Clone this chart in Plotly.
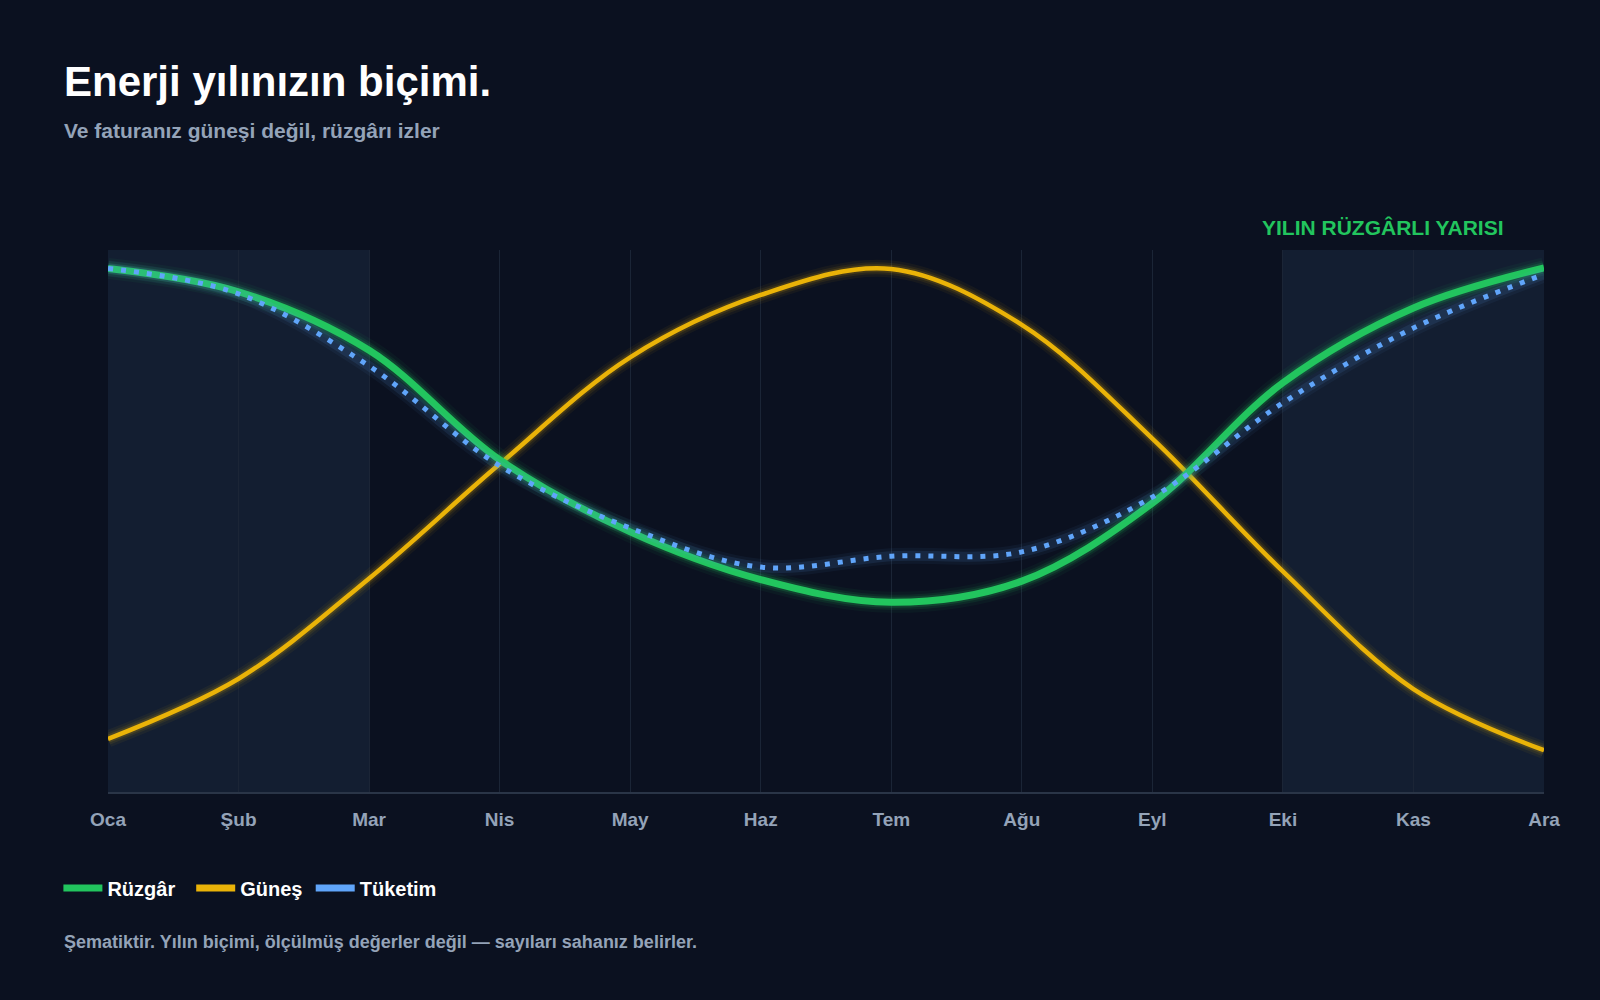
import plotly.graph_objects as go

# month labels and schematic series (0-100 scale)
months = ["Oca", "Şub", "Mar", "Nis", "May", "Haz", "Tem", "Ağu", "Eyl", "Eki", "Kas", "Ara"]
wind = [96.6, 92.3, 81.5, 61.3, 48.0, 39.2, 35.0, 38.9, 53.3, 75.5, 89.3, 96.7]
solar = [9.8, 20.9, 39.4, 60.5, 80.2, 91.7, 96.5, 86.2, 65.2, 40.7, 19.0, 7.7]
usage = [96.6, 91.9, 78.6, 60.2, 48.7, 41.5, 43.5, 44.3, 54.4, 71.8, 85.6, 95.5]
windy_spans = [("Oca", "Mar"), ("Eki", "Ara")]

BG = "#0b1120"
GREEN = "#22c55e"
YELLOW = "#eab308"
BLUE = "#60a5fa"
MUTED = "#94a3b8"
FONT = "Liberation Sans, Arial, sans-serif"
LEFT = -0.032  # text column left edge, in paper units

x = list(range(len(months)))
fig = go.Figure()


def glow(values, color, widths, opacities):
    # fake the soft glow with a few wide translucent strokes
    for w, op in zip(widths, opacities):
        fig.add_trace(go.Scatter(x=x, y=values, mode="lines", line=dict(color=color, width=w, shape="spline"),
                                 opacity=op, showlegend=False, hoverinfo="skip"))


glow(solar, YELLOW, [17, 12, 8], [0.05, 0.08, 0.14])
fig.add_trace(go.Scatter(x=x, y=solar, mode="lines", line=dict(color=YELLOW, width=4.5, shape="spline"),
                         showlegend=False, hoverinfo="skip"))
glow(wind, GREEN, [21, 15, 11], [0.05, 0.09, 0.16])
fig.add_trace(go.Scatter(x=x, y=wind, mode="lines", line=dict(color=GREEN, width=7, shape="spline"),
                         showlegend=False, hoverinfo="skip"))
glow(usage, BLUE, [16, 10], [0.05, 0.1])
fig.add_trace(go.Scatter(x=x, y=usage, mode="lines",
                         line=dict(color=BLUE, width=5, shape="spline", dash="5px,8px"),
                         showlegend=False, hoverinfo="skip"))

# legend entries (solid swatches), one small legend each so the gaps can match
legend_items = [("Rüzgâr", GREEN, "legend", 0.0365), ("Güneş", YELLOW, "legend2", 0.1195),
                ("Tüketim", BLUE, "legend3", 0.1942)]
legend_font = dict(family=FONT, size=20, color="#ffffff", weight="bold")
for name, color, lg, lx in legend_items:
    fig.add_trace(go.Scatter(x=[None], y=[None], mode="lines", name=name, legend=lg,
                             line=dict(color=color, width=7)))
    fig.update_layout({lg: dict(orientation="h", xref="container", yref="container", x=lx, y=0.112,
                                xanchor="left", yanchor="middle", bgcolor="rgba(0,0,0,0)",
                                font=legend_font, itemwidth=39)})

for a, b in windy_spans:
    fig.add_vrect(x0=months.index(a), x1=months.index(b), fillcolor="#131e31", opacity=1,
                  line_width=0, layer="below")

fig.add_annotation(text="YILIN RÜZGÂRLI YARISI", xref="paper", yref="paper", x=0.9735, y=1.0415,
                   xanchor="right", yanchor="middle", showarrow=False,
                   font=dict(family=FONT, size=21, color=GREEN, weight="bold"))
fig.add_annotation(text="Enerji yılınızın biçimi.", xref="paper", yref="paper", x=LEFT, y=1.3107,
                   xanchor="left", yanchor="middle", showarrow=False,
                   font=dict(family=FONT, size=42, color="#ffffff", weight="bold"))
fig.add_annotation(text="Ve faturanız güneşi değil, rüzgârı izler", xref="paper", yref="paper",
                   x=LEFT, y=1.2203, xanchor="left", yanchor="middle", showarrow=False,
                   font=dict(family=FONT, size=21, color=MUTED, weight="bold"))
fig.add_annotation(text="Şematiktir. Yılın biçimi, ölçülmüş değerler değil — sayıları sahanız belirler.",
                   xref="paper", yref="paper", x=LEFT, y=-0.2764, xanchor="left", yanchor="middle",
                   showarrow=False, font=dict(family=FONT, size=18, color=MUTED, weight="bold"))

fig.update_layout(
    width=1600, height=1000,
    paper_bgcolor=BG, plot_bgcolor=BG,
    margin=dict(l=108, r=56, t=250, b=208),
    font=dict(family=FONT, color=MUTED),
    hovermode=False,
)
fig.update_xaxes(range=[0, 11], tickvals=x, ticktext=months, showgrid=True, gridcolor="#1b2536",
                 gridwidth=1, zeroline=False, showline=True, linecolor="#2a3547", linewidth=1.5,
                 ticks="", ticklabelstandoff=9,
                 tickfont=dict(family=FONT, size=19, color=MUTED, weight="bold"))
fig.update_yaxes(range=[0, 100], visible=False, showgrid=False, zeroline=False)

fig.write_html("out.html", config={"displayModeBar": False},
               post_script="document.body.style.margin='0px';")
